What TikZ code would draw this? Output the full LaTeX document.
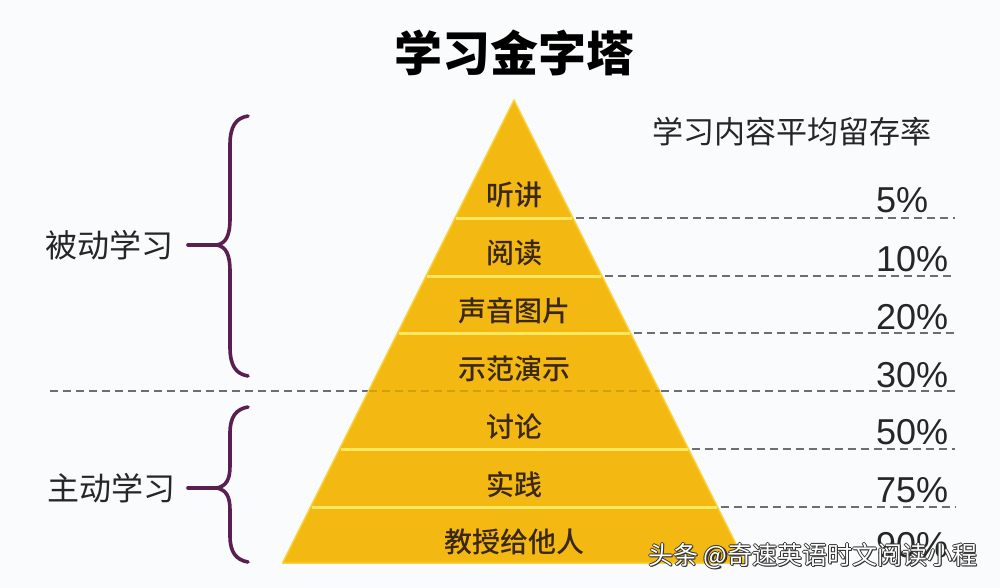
\documentclass[tikz,border=0pt]{standalone}
\usepackage{fontspec}
\setmainfont{Liberation Sans}
\newfontfamily\cjk{Noto Sans CJK SC}
\newfontfamily\cjkmed{Noto Sans CJK SC Medium}
\definecolor{bgc}{HTML}{FAFBFD}
\definecolor{gold}{HTML}{F3B912}
\definecolor{goldedge}{HTML}{FAD23A}
\definecolor{sepc}{HTML}{FFE860}
\definecolor{brown}{HTML}{3A2814}
\definecolor{dashc}{HTML}{6E6E72}
\definecolor{bracec}{HTML}{5A1E50}
\tikzset{
  band/.style={font=\cjkmed\fontsize{28}{30}\selectfont, text=brown, inner sep=0pt},
  pct/.style={font=\fontsize{36}{38}\selectfont, text=black!85, anchor=west, inner sep=0pt},
  side/.style={font=\cjk\fontsize{32}{34}\selectfont, text=black!85, inner sep=0pt},
  sepline/.style={draw=sepc, line width=3pt},
  dashline/.style={draw=dashc, line width=1.3pt, dash pattern=on 8pt off 5pt},
  bracepath/.style={draw=bracec, line width=3.6pt, line cap=round, line join=round},
  wm/.style={font=\cjk\fontsize{25}{27}\selectfont, anchor=west, inner sep=0pt}
}
\begin{document}
\begin{tikzpicture}[x=1pt,y=-1pt]
\useasboundingbox (0,0) rectangle (1000,588);
\fill[bgc] (0,0) rectangle (1000,588);

% coordinates
\coordinate (apex) at (514,100);
\coordinate (bl) at (282.5,563);
\coordinate (br) at (745.5,563);

% full-width dashed divider (behind pyramid)
\coordinate (d0) at (50,391);
\coordinate (d1) at (955,391);
\draw[dashline] (d0) -- (d1);

% pyramid
\fill[gold] (apex) -- (br) -- (bl) -- cycle;
\draw[goldedge, line width=1.5pt, line join=round] (apex) -- (br) -- (bl) -- cycle;

% dashed divider across pyramid (lighter)
\coordinate (p0) at (368.5,391);
\coordinate (p1) at (659.5,391);
\draw[draw=gold!70!black, line width=1.3pt, dash pattern=on 8pt off 5pt, opacity=0.45] (p0) -- (p1);

% band separators
\foreach \y/\n in {218/a,276/b,333/c,449/e,507/f}{
  \pgfmathsetmacro{\hw}{0.5*(\y-100)}
  \coordinate (sl\n) at ({514-\hw+1},\y);
  \coordinate (sr\n) at ({514+\hw-1},\y);
  \draw[sepline] (sl\n) -- (sr\n);
}

% dashed lines right
\foreach \y/\n in {218/a,276/b,333/c,449/e,507/f}{
  \pgfmathsetmacro{\hw}{0.5*(\y-100)}
  \coordinate (ra\n) at ({514+\hw+3},\y);
  \coordinate (rb\n) at (955,\y);
  \draw[dashline] (ra\n) -- (rb\n);
}

% pyramid labels
\node[band] (l1) at (514,195) {听讲};
\node[band] (l2) at (514,253) {阅读};
\node[band] (l3) at (514,311) {声音图片};
\node[band] (l4) at (514,369) {示范演示};
\node[band] (l5) at (514,427) {讨论};
\node[band] (l6) at (514,485) {实践};
\node[band] (l7) at (514,542) {教授给他人};

% title and header
\node[font=\cjk\bfseries\fontsize{48}{50}\selectfont, text=black, inner sep=0pt] (title) at (514,53) {学习金字塔};
\node[side, font=\cjk\fontsize{31}{33}\selectfont] (head) at (792,132) {学习内容平均留存率};

% percentages
\node[pct] (q1) at (876,200) {5\%};
\node[pct] (q2) at (876,259) {10\%};
\node[pct] (q3) at (876,317) {20\%};
\node[pct] (q4) at (876,375) {30\%};
\node[pct] (q5) at (876,432) {50\%};
\node[pct] (q6) at (876,490) {75\%};
\node[pct] (q7) at (876,545) {90\%};

% side labels
\node[side] (pass) at (109,245) {被动学习};
\node[side] (act) at (111,488) {主动学习};

% braces
\coordinate (b1t) at (248,116);
\coordinate (b1m) at (217,245);
\coordinate (b1b) at (248,376);
\coordinate (b1s) at (188,245);
\draw[bracepath] (b1t) .. controls (236,118) and (230,126) .. (230,145)
  -- (230,218) .. controls (230,236) and (226,243) .. (b1m)
  .. controls (226,247) and (230,254) .. (230,272)
  -- (230,347) .. controls (230,366) and (236,374) .. (b1b);
\draw[bracepath] (b1s) -- (b1m);

\coordinate (b2t) at (248,407);
\coordinate (b2m) at (217,488);
\coordinate (b2b) at (248,562);
\coordinate (b2s) at (188,488);
\draw[bracepath] (b2t) .. controls (236,409) and (230,417) .. (230,433)
  -- (230,466) .. controls (230,480) and (226,486) .. (b2m)
  .. controls (226,490) and (230,496) .. (230,510)
  -- (230,536) .. controls (230,552) and (236,560) .. (b2b);
\draw[bracepath] (b2s) -- (b2m);

% watermark
\foreach \dx/\dy/\k in {-1.2/0/1,1.2/0/2,0/-1.2/3,0/1.2/4,1.5/1.5/5}{
  \node[wm, text=black!80] (wms\k) at ({648+\dx},{556+\dy}) {头条 @奇速英语时文阅读小程};
}
\node[wm, text=white] (wm) at (648,556) {头条 @奇速英语时文阅读小程};
\end{tikzpicture}
\end{document}
